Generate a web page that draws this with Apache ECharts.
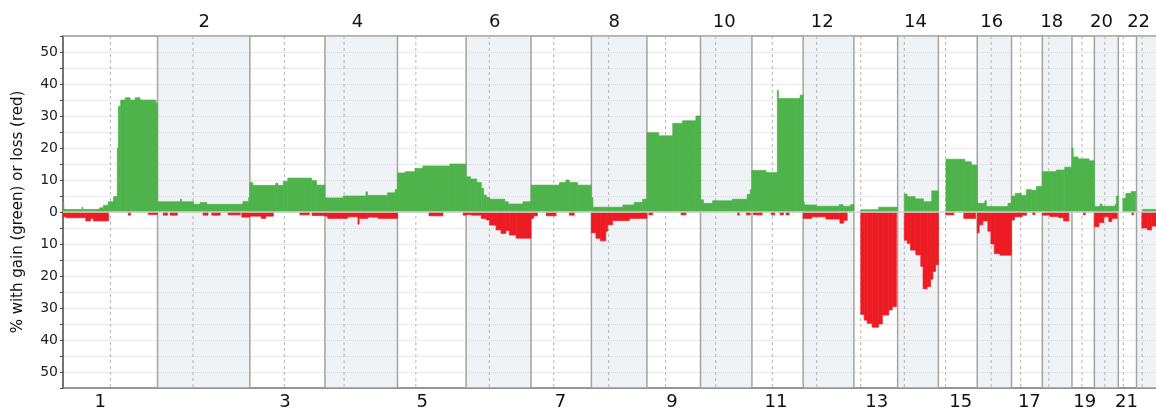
<!DOCTYPE html>
<html>
<head>
<meta charset="utf-8">
<script src="https://cdn.jsdelivr.net/npm/echarts@6/dist/echarts.min.js"></script>
<style>
  html, body { margin: 0; padding: 0; background: #fff; }
  #chart { width: 1156px; height: 411px; }
</style>
</head>
<body>
<div id="chart"></div>
<script>
// chromosome sizes / centromeres in Mb (hg19)
var chromosomes = ['1','2','3','4','5','6','7','8','9','10','11','12','13','14','15','16','17','18','19','20','21','22'];
var chromLengths = [249.25, 243.2, 198.0, 191.15, 180.9, 171.1, 159.1, 146.4, 141.2, 135.5, 135.0, 133.85, 115.2, 107.35, 102.5, 90.35, 81.2, 78.1, 59.1, 63.0, 48.1, 51.3];
var centromeres = [125.0, 93.3, 91.0, 50.4, 48.4, 61.0, 59.9, 45.6, 49.0, 40.2, 53.7, 35.8, 17.9, 17.6, 19.0, 36.6, 24.0, 17.2, 26.5, 27.5, 13.2, 14.7];
// where the chromosome numbers sit, genome Mb
var labelPositions = [98, 372, 585, 776, 947, 1138, 1311, 1453, 1605, 1743, 1879, 2001, 2145, 2247, 2366, 2448, 2547, 2606, 2693, 2737, 2803, 2835];

// [start Mb, end Mb, % of samples] per chromosome
var gains = [
  [[0,2,3],[2,50,0.8],[50,52,1.5],[52,96,0.8],[96,106,1.3],[106,119,2.1],[119,133,3.2],[133,143,4.8],[143,146,20],[146,152,33],[152,164,35],[164,177,35.7],[177,190,35],[190,203,35.7],[203,245,35],[245,249.25,34]],
  [[0,60,3.2],[60,63,4.0],[63,95,3.2],[95,112,2.4],[112,130,3.0],[130,225,2.4],[225,240,3.3],[240,243.2,4.5]],
  [[0,8,9.2],[8,68,8.3],[68,74,9.0],[74,88,8.3],[88,100,9.5],[100,163,10.6],[163,176,9.8],[176,198,8.4]],
  [[0,48,4.4],[48,108,5.0],[108,112,6.3],[112,165,5.2],[165,185,6.0],[185,191.15,7.0]],
  [[0,20,12.2],[20,46,12.6],[46,67,13.6],[67,138,14.4],[138,180.9,15.0]],
  [[0,12,11.0],[12,28,10.3],[28,40,9.2],[40,46,7.4],[46,53,5.3],[53,62,4.6],[62,102,4.0],[102,111,3.2],[111,150,2.5],[150,171.1,3.2]],
  [[0,75,8.4],[75,92,9.2],[92,101,10.0],[101,123,9.2],[123,159.1,8.4]],
  [[0,4,4.5],[4,83,1.5],[83,113,2.2],[113,135,3.0],[135,146.4,4.0]],
  [[0,31,24.8],[31,68,23.8],[68,94,27.7],[94,129,28.5],[129,141.2,30.0]],
  [[0,8,3.8],[8,32,2.7],[32,84,3.5],[84,123,4.0],[123,131,5.5],[131,135.5,7.0]],
  [[0,37,13.0],[37,67,12.3],[67,70,38.0],[70,127,35.5],[127,135,36.5]],
  [[0,3,3.2],[3,35,2.2],[35,95,1.8],[95,105,2.3],[105,125,1.8],[125,133.85,2.3]],
  [[18,65,0.7],[65,115.2,1.5]],
  [[17.6,25,5.6],[25,46,4.8],[46,68,4.1],[68,90,3.2],[90,107.35,6.6]],
  [[20,70,16.5],[70,87,15.7],[87,102.5,14.7]],
  [[0,20,2.7],[20,24,3.5],[24,81,1.7],[81,90.35,2.7]],
  [[0,10,5.0],[10,26,5.8],[26,39,5.2],[39,52,7.0],[52,66,6.8],[66,81.2,8.0]],
  [[0,37,12.6],[37,59,13.1],[59,78.1,14.0]],
  [[0,3,20],[3,16,17.2],[16,45,16.6],[45,59.1,16.0]],
  [[0,15,1.7],[15,20,2.5],[20,55,1.8],[55,58,2.4],[58,63,5.0]],
  [[12,20,4.3],[20,34,5.8],[34,46,6.4]],
  [[16,51.3,0.8]]
];

var losses = [
  [[0,8,1.5],[8,60,1.8],[60,73,2.8],[73,80,2.0],[80,120,2.8],[172,178,1.0],[225,249,0.8]],
  [[15,26,1.0],[33,52,1.0],[120,133,1.0],[143,165,1.0],[186,218,0.9],[222,243.2,1.6]],
  [[0,30,1.3],[30,42,2.0],[42,62,1.3],[132,157,0.9],[164,198,1.1]],
  [[0,7,1.3],[7,60,2.0],[60,87,1.5],[87,90,3.8],[90,113,2.0],[113,140,1.6],[140,191.15,2.0]],
  [[83,120,1.2],[173,180.9,1.0]],
  [[0,14,0.8],[14,40,1.0],[40,53,2.0],[53,62,2.5],[62,79,4.1],[79,92,5.6],[92,105,6.7],[105,114,5.8],[114,132,7.2],[132,171.1,8.2]],
  [[0,7,2.0],[7,17,1.2],[40,66,1.2],[101,114,1.0]],
  [[0,12,6.5],[12,24,8.2],[24,38,9.0],[38,43,6.0],[43,56,4.0],[56,100,2.7],[100,146.4,2.0]],
  [[5,15,0.9],[90,103,0.9]],
  [[98,102,1.0],[121,131,0.9]],
  [[4,27,0.9],[51,60,0.9],[74,83,0.9],[90,98,0.9]],
  [[0,23,2.0],[23,60,1.5],[60,97,2.2],[97,107,3.5],[107,116,2.6]],
  [[18,27,32.0],[27,35,33.8],[35,48,34.8],[48,65,36.0],[65,75,35.0],[75,92,32.2],[92,101,30.6],[101,112,29.6]],
  [[17.6,25,8.8],[25,34,9.8],[34,48,11.9],[48,61,13.4],[61,67,17.0],[67,78,24.0],[78,87,23.3],[87,93,21.0],[93,100,18.6],[100,107.35,16.5]],
  [[19,41,0.9],[67,98,2.0]],
  [[0,5,6.5],[5,15,4.0],[15,28,2.8],[28,36,6.0],[36,45,10.0],[45,60,13.0],[60,90,13.5]],
  [[0,8,2.5],[8,28,1.5],[28,40,1.0],[56,62,0.8]],
  [[0,20,1.0],[20,43,1.4],[43,56,1.8],[56,70,2.8]],
  [[30,35,0.9]],
  [[0,12,4.6],[12,25,3.3],[25,38,1.5],[38,46,3.0],[46,60,2.0]],
  [[36,40,0.9]],
  [[14,28,5.0],[28,40,5.6],[40,51.3,4.4]]
];

var chromStarts = [];
var total = 0;
chromLengths.forEach(function (len) { chromStarts.push(total); total += len; });

var bandData = chromosomes.map(function (c, i) {
  return [chromStarts[i], chromStarts[i] + chromLengths[i], chromStarts[i] + centromeres[i], i];
});

function toGenome(list, sign) {
  var out = [];
  list.forEach(function (segs, i) {
    segs.forEach(function (s) {
      out.push([chromStarts[i] + s[0], chromStarts[i] + s[1], sign * s[2]]);
    });
  });
  return out;
}
var gainData = toGenome(gains, 1);
var lossData = toGenome(losses, -1);

var oddLabels = labelPositions.filter(function (v, i) { return i % 2 === 0; });
var evenLabels = labelPositions.filter(function (v, i) { return i % 2 === 1; });

function chromName(v) {
  var best = 0;
  labelPositions.forEach(function (p, i) {
    if (Math.abs(p - v) < Math.abs(labelPositions[best] - v)) best = i;
  });
  return chromosomes[best];
}

function renderBar(params, api) {
  var p0 = api.coord([api.value(0), 0]);
  var p1 = api.coord([api.value(1), api.value(2)]);
  var color = api.visual('color');
  return {
    type: 'rect',
    shape: { x: p0[0], y: Math.min(p0[1], p1[1]), width: p1[0] - p0[0], height: Math.abs(p1[1] - p0[1]) },
    style: { fill: color, stroke: color, lineWidth: 0.7 }
  };
}

var font = 'DejaVu Sans';
var chart = echarts.init(document.getElementById('chart'));

chart.setOption({
  animation: false,
  grid: { left: 63, right: -1, top: 36, bottom: 23 },
  xAxis: [{
    type: 'value', min: 0, max: total, position: 'bottom',
    axisLine: { show: true, onZero: false, lineStyle: { color: '#777', width: 1.5 } },
    axisTick: { show: false },
    splitLine: { show: false },
    axisLabel: { customValues: oddLabels, formatter: chromName, fontSize: 18, fontFamily: font, color: '#111', margin: 5 }
  }, {
    type: 'value', min: 0, max: total, position: 'top',
    axisLine: { show: true, onZero: false, lineStyle: { color: '#999', width: 1.5 } },
    axisTick: { show: false },
    splitLine: { show: false },
    axisLabel: { customValues: evenLabels, formatter: chromName, fontSize: 18, fontFamily: font, color: '#111', margin: 5 }
  }],
  yAxis: {
    type: 'value', min: -55, max: 55, interval: 5,
    name: '% with gain (green) or loss (red)',
    nameLocation: 'middle', nameGap: 37,
    nameTextStyle: { fontSize: 15, fontFamily: font, color: '#111' },
    axisLine: { show: true, lineStyle: { color: '#444', width: 1.5 } },
    axisTick: { show: true, length: 3, lineStyle: { color: '#444' } },
    axisLabel: {
      fontSize: 14, fontFamily: font, color: '#222', margin: 5,
      formatter: function (v) { return v % 10 === 0 ? String(Math.abs(v)) : ''; }
    },
    splitLine: { show: true, lineStyle: { color: '#d9d9d9', type: 'dotted' } }
  },
  series: [{
    type: 'custom', name: 'chromosomes', z: 1, silent: true,
    data: bandData,
    renderItem: function (params, api) {
      var cs = params.coordSys;
      var x0 = api.coord([api.value(0), 0])[0];
      var x1 = api.coord([api.value(1), 0])[0];
      var xc = api.coord([api.value(2), 0])[0];
      var idx = api.value(3);
      var kids = [];
      if (idx % 2 === 1) {
        kids.push({ type: 'rect', shape: { x: x0, y: cs.y, width: x1 - x0, height: cs.height }, style: { fill: 'rgba(214,222,230,0.36)' } });
      }
      kids.push({ type: 'line', shape: { x1: xc, y1: cs.y, x2: xc, y2: cs.y + cs.height }, style: { stroke: '#b5b5b5', lineWidth: 1, lineDash: [3, 3] } });
      if (idx > 0) {
        kids.push({ type: 'line', shape: { x1: x0, y1: cs.y, x2: x0, y2: cs.y + cs.height }, style: { stroke: '#a3a3a3', lineWidth: 1.5 } });
      }
      return { type: 'group', children: kids };
    }
  }, {
    type: 'custom', name: 'gain', z: 3,
    itemStyle: { color: '#4db34a' },
    data: gainData,
    renderItem: renderBar
  }, {
    type: 'custom', name: 'loss', z: 3,
    itemStyle: { color: '#ed1c24' },
    data: lossData,
    renderItem: renderBar,
    markLine: {
      silent: true, symbol: 'none', label: { show: false },
      lineStyle: { color: '#d6d6d6', width: 1.5, type: 'solid' },
      data: [{ yAxis: 0 }]
    }
  }]
});
</script>
</body>
</html>
